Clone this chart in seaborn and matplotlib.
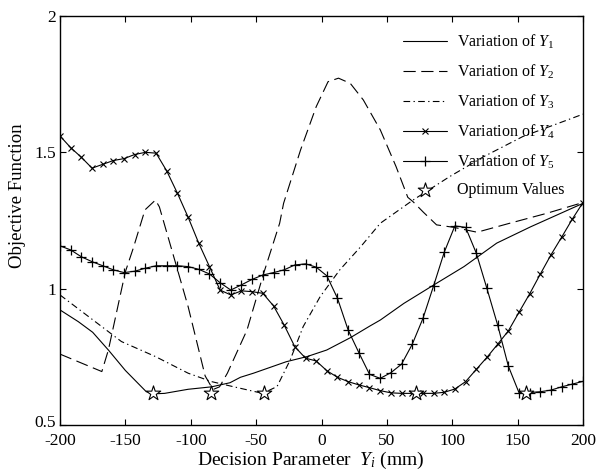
import numpy as np
import pandas as pd
import matplotlib
matplotlib.use("Agg")
import matplotlib.pyplot as plt
import matplotlib.transforms as mtransforms
import seaborn as sns

# ---- data ----
y1_x = [-200, -186, -175, -163, -150, -134, -125, -120, -102, -84, -70, -62, -52, -27, -11, 4, 22, 37, 45, 63, 86, 109, 134, 160, 180, 200]
y1_v = [0.922, 0.879, 0.840, 0.775, 0.700, 0.622, 0.615, 0.616, 0.631, 0.640, 0.655, 0.675, 0.690, 0.732, 0.751, 0.775, 0.820, 0.863, 0.885, 0.946, 1.014, 1.081, 1.167, 1.227, 1.270, 1.313]

y2_x = [-200, -168, -163, -150, -144, -135, -127, -124, -116, -102, -89, -83, -78, -72, -57, -44, -32, -29, -16, -4, 5, 13, 22, 32, 45, 57, 66, 70, 78, 88, 101, 119, 144, 172, 200]
y2_v = [0.760, 0.696, 0.775, 1.062, 1.148, 1.289, 1.325, 1.300, 1.167, 0.934, 0.680, 0.630, 0.640, 0.690, 0.848, 1.060, 1.240, 1.313, 1.509, 1.668, 1.759, 1.772, 1.753, 1.692, 1.582, 1.448, 1.335, 1.319, 1.280, 1.234, 1.225, 1.207, 1.240, 1.276, 1.316]

y3_x = [-200, -178, -153, -127, -102, -84, -67, -45, -34, -24, -14, -1, 14, 30, 45, 70, 98, 124, 154, 200]
y3_v = [0.977, 0.897, 0.806, 0.751, 0.690, 0.659, 0.640, 0.616, 0.641, 0.738, 0.861, 0.971, 1.069, 1.154, 1.240, 1.325, 1.411, 1.484, 1.558, 1.640]

grid_x = [-200.0, -191.8, -183.7, -175.5, -167.3, -159.2, -151.0, -142.9, -134.7, -126.5,
          -118.4, -110.2, -102.0, -93.9, -85.7, -77.6, -69.4, -61.2, -53.1, -44.9,
          -36.7, -28.6, -20.4, -12.2, -4.1, 4.1, 12.2, 20.4, 28.6, 36.7,
          44.9, 53.1, 61.2, 69.4, 77.6, 85.7, 93.9, 102.0, 110.2, 118.4,
          126.5, 134.7, 142.9, 151.0, 159.2, 167.3, 175.5, 183.7, 191.8, 200.0]

y4_v = [1.560, 1.517, 1.482, 1.442, 1.456, 1.470, 1.477, 1.492, 1.500, 1.497,
        1.432, 1.350, 1.262, 1.167, 1.081, 0.995, 0.977, 0.992, 0.989, 0.983,
        0.937, 0.867, 0.787, 0.745, 0.735, 0.699, 0.675, 0.659, 0.647, 0.637,
        0.626, 0.618, 0.616, 0.616, 0.616, 0.616, 0.620, 0.632, 0.659, 0.704,
        0.748, 0.796, 0.845, 0.913, 0.981, 1.053, 1.124, 1.189, 1.255, 1.316]

y5_v = [1.157, 1.142, 1.117, 1.099, 1.084, 1.069, 1.059, 1.064, 1.075, 1.084,
        1.084, 1.084, 1.081, 1.071, 1.054, 1.022, 0.995, 1.014, 1.034, 1.050,
        1.059, 1.069, 1.087, 1.091, 1.079, 1.047, 0.965, 0.848, 0.765, 0.686,
        0.671, 0.692, 0.723, 0.796, 0.891, 1.010, 1.134, 1.230, 1.225, 1.130,
        1.001, 0.867, 0.716, 0.619, 0.619, 0.622, 0.628, 0.640, 0.650, 0.660]

opt_x = [-128.5, -84.8, -44.0, 72.0, 156.5]
opt_v = [0.616, 0.616, 0.616, 0.617, 0.617]

x_ticks = [-200, -150, -100, -50, 0, 50, 100, 150, 200]
y_ticks = [0.5, 1.0, 1.5, 2.0]
y_ticklabels = ["0.5", "1", "1.5", "2"]

# ---- styling ----
sns.set_theme(style="white")
plt.rcParams["font.family"] = ["Liberation Serif", "DejaVu Serif"]
plt.rcParams["mathtext.fontset"] = "custom"
plt.rcParams["mathtext.rm"] = "Liberation Serif"
plt.rcParams["mathtext.it"] = "Liberation Serif:italic"
plt.rcParams["axes.unicode_minus"] = False

fig = plt.figure(figsize=(5.99, 4.73), dpi=100)
ax = fig.add_axes([60/599, 1-425/473, 523/599, 409/473])

lw = 0.8
d1 = pd.DataFrame({"x": y1_x, "y": y1_v})
d2 = pd.DataFrame({"x": y2_x, "y": y2_v})
d3 = pd.DataFrame({"x": y3_x, "y": y3_v})
d4 = pd.DataFrame({"x": grid_x, "y": y4_v})
d5 = pd.DataFrame({"x": grid_x, "y": y5_v})
dopt = pd.DataFrame({"x": opt_x, "y": opt_v})

sns.lineplot(data=d1, x="x", y="y", ax=ax, color="black", lw=lw, label="Variation of $Y_1$")
sns.lineplot(data=d2, x="x", y="y", ax=ax, color="black", lw=lw, linestyle=(0, (11, 5)), label="Variation of $Y_2$")
sns.lineplot(data=d3, x="x", y="y", ax=ax, color="black", lw=lw, linestyle=(0, (6, 3, 1.2, 3)), label="Variation of $Y_3$")
sns.lineplot(data=d4, x="x", y="y", ax=ax, color="black", lw=lw, label="Variation of $Y_4$")
l4 = ax.lines[-1]
l4.set_marker("x"); l4.set_markersize(4.5); l4.set_markeredgewidth(0.8)
l4.set_markeredgecolor("black")
sns.lineplot(data=d5, x="x", y="y", ax=ax, color="black", lw=lw, label="Variation of $Y_5$")
l5 = ax.lines[-1]
l5.set_marker("+"); l5.set_markersize(7.5); l5.set_markeredgewidth(0.9)
l5.set_markeredgecolor("black")
sns.scatterplot(data=dopt, x="x", y="y", ax=ax, marker="*", s=120, facecolor="white",
                edgecolor="black", linewidth=0.8, zorder=5, label="Optimum Values")

ax.set_xlim(-200, 200)
ax.set_ylim(0.5, 2.0)
ax.set_xticks(x_ticks)
ax.set_xticklabels([str(t) for t in x_ticks])
ax.set_yticks(y_ticks)
ax.set_yticklabels(y_ticklabels)
ax.tick_params(direction="in", length=4, width=0.8, top=True, right=True,
               bottom=True, left=True, labelsize=12.5, colors="black")
ax.tick_params(axis="x", pad=6)
ax.tick_params(axis="y", pad=3)
for s in ax.spines.values():
    s.set_color("black")
    s.set_linewidth(1.0)

# lift the lowest y tick label slightly so it sits just above "-200"
lbl = ax.get_yticklabels()[0]
lbl.set_transform(lbl.get_transform() + mtransforms.ScaledTranslation(0, 3/72, fig.dpi_scale_trans))

ax.set_xlabel("Decision Parameter  $Y_i$ (mm)", fontsize=14, color="black")
ax.xaxis.set_label_coords((311-60)/523, (425-450)/409)
ax.set_ylabel("Objective Function", fontsize=13.5, color="black")
ax.yaxis.set_label_coords((26-60)/523, (425-196)/409)

leg = ax.legend(loc="upper left", bbox_to_anchor=((403-60)/523, (425-33)/409), frameon=False,
                fontsize=11.5, handlelength=2.75, handletextpad=0.6, labelspacing=0.72,
                borderaxespad=0, borderpad=0)
for t in leg.get_texts():
    t.set_color("black")

fig.savefig("out.png", dpi=100)
